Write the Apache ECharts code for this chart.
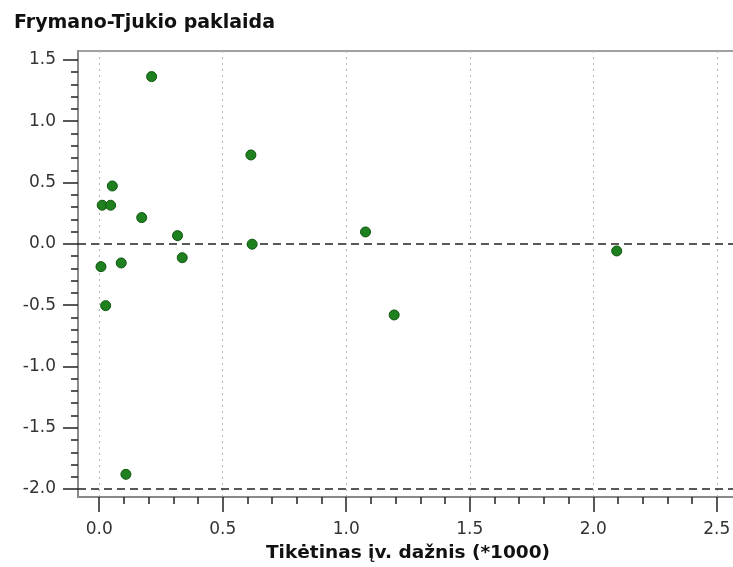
<!DOCTYPE html>
<html>
<head>
<meta charset="utf-8">
<title>Frymano-Tjukio paklaida</title>
<script src="https://cdn.jsdelivr.net/npm/echarts@6/dist/echarts.min.js"></script>
<style>
  html, body { margin: 0; padding: 0; background: #fff; }
  #chart { width: 733px; height: 567px; }
</style>
</head>
<body>
<div id="chart"></div>
<script>
// Expected frequency (*1000) and Freeman-Tukey residual for each cell
const expectedFreq = [0.007, 0.012, 0.026, 0.046, 0.053, 0.089, 0.108, 0.172, 0.212, 0.317, 0.336, 0.614, 0.619, 1.078, 1.194, 2.095];
const ftResidual   = [-0.186, 0.315, -0.504, 0.315, 0.472, -0.156, -1.88, 0.214, 1.364, 0.067, -0.113, 0.725, -0.003, 0.097, -0.58, -0.058];

// Axis ticks
const xMajorTicks = [0, 0.5, 1.0, 1.5, 2.0, 2.5];
const xMinorTicks = [0.1, 0.2, 0.3, 0.4, 0.6, 0.7, 0.8, 0.9, 1.1, 1.2, 1.3, 1.4, 1.6, 1.7, 1.8, 1.9, 2.1, 2.2, 2.3, 2.4];
const yMajorTicks = [-2.0, -1.5, -1.0, -0.5, 0.0, 0.5, 1.0, 1.5];
const yMinorTicks = [-1.9, -1.8, -1.7, -1.6, -1.4, -1.3, -1.2, -1.1, -0.9, -0.8, -0.7, -0.6, -0.4, -0.3, -0.2, -0.1,
                     0.1, 0.2, 0.3, 0.4, 0.6, 0.7, 0.8, 0.9, 1.1, 1.2, 1.3, 1.4];

// Reference lines
const refLines = [0, -2];

const xRange = [-0.086, 2.586];
const yRange = [-2.065, 1.573];

const FONT = 'DejaVu Sans';
const points = expectedFreq.map((x, i) => [x, ftResidual[i]]);

const chart = echarts.init(document.getElementById('chart'), null, { renderer: 'canvas' });

chart.setOption({
  animation: false,
  backgroundColor: '#ffffff',
  title: {
    text: 'Frymano-Tjukio paklaida',
    left: 9,
    top: 9,
    textStyle: { fontFamily: FONT, fontSize: 19, fontWeight: 'bold', color: '#111' }
  },
  grid: {
    left: 78, top: 51, width: 660, bottom: 70,
    outerBoundsMode: 'none',
    containLabel: false,
    show: true,
    borderColor: '#a0a0a0',
    borderWidth: 2,
    backgroundColor: '#fff'
  },
  xAxis: [
    {
      type: 'value',
      min: xRange[0], max: xRange[1],
      name: 'Tikėtinas įv. dažnis (*1000)',
      nameLocation: 'middle',
      nameGap: 47,
      nameTextStyle: { fontFamily: FONT, fontSize: 18.5, fontWeight: 'bold', color: '#111' },
      axisLine: { show: true, onZero: false, lineStyle: { color: '#8a8a8a', width: 2 } },
      axisTick: { show: true, customValues: xMajorTicks, length: 15, lineStyle: { color: '#222', width: 1.5 } },
      axisLabel: {
        customValues: xMajorTicks,
        margin: 24,
        fontFamily: FONT, fontSize: 17, color: '#333',
        formatter: v => v.toFixed(1)
      },
      splitLine: { show: true, lineStyle: { color: '#b8b8b8', type: [2, 4], width: 1 } }
    },
    {
      type: 'value',
      min: xRange[0], max: xRange[1],
      position: 'bottom',
      axisLine: { show: false, onZero: false },
      axisTick: { show: true, customValues: xMinorTicks, length: 7, lineStyle: { color: '#222', width: 1.5 } },
      axisLabel: { show: false },
      splitLine: { show: false }
    }
  ],
  yAxis: [
    {
      type: 'value',
      min: yRange[0], max: yRange[1],
      axisLine: { show: true, onZero: false, lineStyle: { color: '#8a8a8a', width: 2 } },
      axisTick: { show: true, customValues: yMajorTicks, length: 15, lineStyle: { color: '#222', width: 1.5 } },
      axisLabel: {
        customValues: yMajorTicks,
        margin: 22,
        fontFamily: FONT, fontSize: 17, color: '#333',
        formatter: v => v.toFixed(1)
      },
      splitLine: { show: false }
    },
    {
      type: 'value',
      min: yRange[0], max: yRange[1],
      position: 'left',
      axisLine: { show: false, onZero: false },
      axisTick: { show: true, customValues: yMinorTicks, length: 7, lineStyle: { color: '#222', width: 1.5 } },
      axisLabel: { show: false },
      splitLine: { show: false }
    }
  ],
  series: [
    {
      type: 'scatter',
      xAxisIndex: 0,
      yAxisIndex: 0,
      data: points,
      symbol: 'circle',
      symbolSize: 10,
      itemStyle: { color: '#1f801f', borderColor: '#0e560e', borderWidth: 1, opacity: 1 },
      markLine: {
        silent: true,
        symbol: ['none', 'none'],
        label: { show: false },
        lineStyle: { color: '#222', type: [8, 5], width: 1.5 },
        data: refLines.map(v => ({ yAxis: v }))
      },
      z: 5
    }
  ]
});
</script>
</body>
</html>
